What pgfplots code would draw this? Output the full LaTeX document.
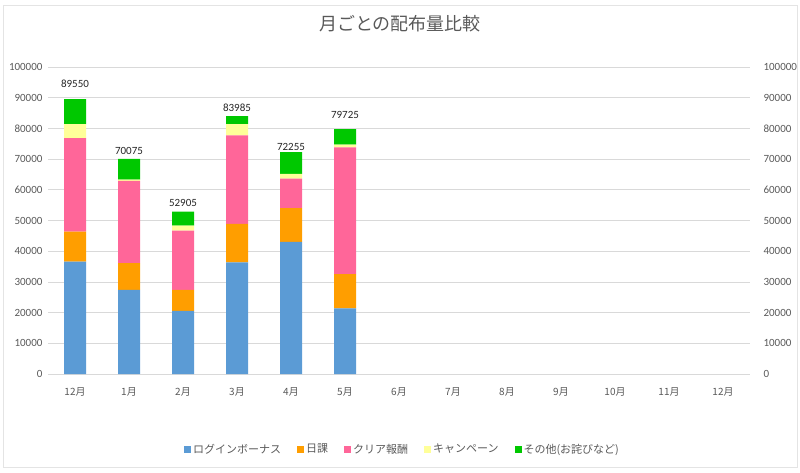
\documentclass[border=0pt]{standalone}
\usepackage{pgfplots}
\pgfplotsset{compat=1.18}
\usepackage{pgfplotstable}
\usepackage{fontspec}
\setmainfont{Carlito}
\newfontfamily\cjk{Noto Sans CJK JP}
\definecolor{cBlue}{HTML}{5B9BD5}
\definecolor{cOrange}{HTML}{FF9E00}
\definecolor{cPink}{HTML}{FF6699}
\definecolor{cYellow}{HTML}{FFFF99}
\definecolor{cGreen}{HTML}{00C800}
\definecolor{txt}{HTML}{595959}
\definecolor{grd}{HTML}{D9D9D9}
\pgfplotstableread{
x login nikka clear camp other total ly
0 36600 9800 30400 4600 8150 89550 94460
1 27400 8700 26800 400 6775 70075 72640
2 20600 6800 19300 1600 4605 52905 55700
3 36400 12500 28800 3700 2585 83985 86640
4 43000 11000 9600 1600 7055 72255 73940
5 21400 11100 41300 900 5025 79725 84360
}\data
\begin{document}
\begin{tikzpicture}[x=1pt,y=1pt]
\useasboundingbox (0,0) rectangle (800,472);
\draw[grd!70] (3,5) rectangle (797,467);
\node[txt,font=\cjk\fontsize{18}{20}\selectfont] at (400,448) {月ごとの配布量比較};
\begin{axis}[
  at={(48pt,98pt)}, anchor=south west,
  scale only axis, width=702pt, height=307pt,
  ybar stacked, bar width=22pt,
  xmin=-0.5, xmax=12.5, ymin=0, ymax=100000,
  xtick={0,...,12},
  xticklabels={12月,1月,2月,3月,4月,5月,6月,7月,8月,9月,10月,11月,12月},
  xticklabel style={font=\cjk\fontsize{10}{12}\selectfont, txt},
  ytick={0,10000,...,100000},
  yticklabel style={font=\fontsize{11}{13}\selectfont, txt},
  /pgf/number format/assume math mode=true,
  scaled y ticks=false,
  yticklabel={\pgfmathprintnumber[fixed,1000 sep={}]{\tick}},
  ymajorgrids, grid style={grd, line width=0.8pt},
  axis line style={draw=none},
  major tick length=0pt,
  tick align=outside,
  xticklabel shift=10pt, yticklabel shift=2pt,
  legend style={at={(0.505,-0.245)}, anchor=center, draw=none, fill=none,
    font=\cjk\fontsize{11}{13}\selectfont, text=txt, legend columns=5,
    /tikz/every even column/.append style={column sep=14pt}},
  legend image code/.code={\fill[#1] (0pt,-3.5pt) rectangle (7pt,3.5pt);},
  every axis plot/.append style={draw=none},
]
\addplot[fill=cBlue] table[x=x,y=login]{\data};
\addlegendentry{ログインボーナス}
\addplot[fill=cOrange] table[x=x,y=nikka]{\data};
\addlegendentry{日課}
\addplot[fill=cPink] table[x=x,y=clear]{\data};
\addlegendentry{クリア報酬}
\addplot[fill=cYellow] table[x=x,y=camp]{\data};
\addlegendentry{キャンペーン}
\addplot[fill=cGreen] table[x=x,y=other]{\data};
\addlegendentry{その他(お詫びなど)}
\end{axis}
\begin{axis}[
  at={(48pt,98pt)}, anchor=south west,
  scale only axis, width=702pt, height=307pt,
  xmin=-0.5, xmax=12.5, ymin=0, ymax=100000,
  axis line style={draw=none}, xtick=\empty,
  ytick={0,10000,...,100000},
  yticklabel pos=right,
  yticklabel style={font=\fontsize{11}{13}\selectfont, txt, anchor=west},
  /pgf/number format/assume math mode=true,
  scaled y ticks=false,
  yticklabel={\pgfmathprintnumber[fixed,1000 sep={}]{\tick}},
  major tick length=0pt, yticklabel shift=10pt,
  clip=false,
]
\addplot[only marks, mark=none, point meta=explicit, nodes near coords,
  every node near coord/.style={font=\fontsize{11}{13}\selectfont, text=black!85, anchor=center},
  nodes near coords={\pgfmathprintnumber[fixed,1000 sep={}]{\pgfplotspointmeta}}]
  table[x=x,y=ly,meta=total]{\data};
\end{axis}
\end{tikzpicture}
\end{document}
